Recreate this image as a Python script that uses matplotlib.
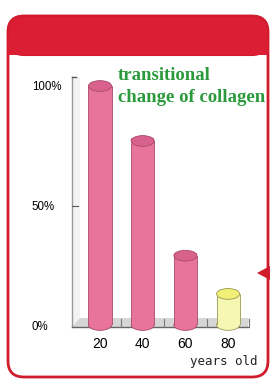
import matplotlib
matplotlib.use('Agg')
import matplotlib.pyplot as plt
from matplotlib.patches import FancyBboxPatch, Rectangle, Ellipse, Polygon

# datos
edades = ['20', '40', '60', '80']
colageno = [100, 77, 29, 13]
colores = ['#e8739b', '#e8739b', '#e8739b', '#f7f7b4']
tapas = ['#d9628c', '#d9628c', '#d9628c', '#f2ef78']
bordes = ['#a8496c', '#a8496c', '#a8496c', '#9a9a50']
y_ticks = [0, 50, 100]
y_labels = ['0%', '50%', '100%']

fig = plt.figure(figsize=(2.7, 3.82), dpi=100)

# capa de fondo en pixeles
fondo = fig.add_axes([0, 0, 1, 1])
fondo.set_xlim(0, 270)
fondo.set_ylim(382, 0)
fondo.axis('off')

marco = FancyBboxPatch((8, 16), 260, 361, boxstyle='round,pad=0,rounding_size=16',
                       facecolor='white', edgecolor='#d01c2c', linewidth=2)
fondo.add_patch(marco)
cabecera = FancyBboxPatch((8, 16), 260, 39, boxstyle='round,pad=0,rounding_size=16',
                          facecolor='#dc1e34', edgecolor='#d01c2c', linewidth=1.5)
fondo.add_patch(cabecera)
fondo.add_patch(Rectangle((8, 40), 260, 15, facecolor='#dc1e34', edgecolor='none'))
fondo.add_patch(Polygon([[257, 273], [270, 266], [270, 280]], closed=True,
                        facecolor='#d01c2c', edgecolor='none'))

# pared izquierda y piso gris
fondo.add_patch(Rectangle((72, 77), 8, 248, facecolor='#f3f3f3', edgecolor='none'))
fondo.plot([72, 72], [77, 327], color='#9a9a9a', lw=1)
fondo.plot([72, 76], [77, 77], color='#555555', lw=1)
fondo.add_patch(Polygon([[72, 327], [80, 318], [249, 318], [248, 327]], closed=True,
                        facecolor='#d6d6d6', edgecolor='none'))
fondo.plot([72, 248], [327, 327], color='#666666', lw=1)
for xt in [121, 164, 207, 249]:
    fondo.plot([xt, xt], [319, 327], color='#777777', lw=0.8)

fondo.text(118, 80, 'transitional', color='#2a9a3c', fontsize=13.5, fontweight='bold',
           family='Liberation Serif', va='baseline')
fondo.text(118, 102, 'change of collagen', color='#2a9a3c', fontsize=13.5, fontweight='bold',
           family='Liberation Serif', va='baseline')
fondo.text(258, 362, 'years old', fontsize=9, family='DejaVu Sans Mono', ha='right',
           va='center', color='#222222')

# grafico de cilindros
px = lambda x, y: fig.transFigure.inverted().transform(fondo.transData.transform((x, y)))
x0, y0 = px(72, 325)
x1, y1 = px(248, 86)
grafico = fig.add_axes([x0, y0, x1 - x0, y1 - y0])
paso = 42.7
grafico.set_xlim((72 - 100) / paso, (248 - 100) / paso)
grafico.set_ylim(0, 100)
grafico.patch.set_alpha(0)
for s in grafico.spines.values():
    s.set_visible(False)

ancho = 0.54
alto_el = 4.5
pos = list(range(len(edades)))
grafico.bar(pos, colageno, width=ancho, color=colores, edgecolor=bordes, linewidth=0.6, zorder=2)
for i, v in enumerate(colageno):
    grafico.add_patch(Ellipse((pos[i], 0), ancho, alto_el, facecolor=colores[i],
                              edgecolor=bordes[i], lw=0.6, zorder=1, clip_on=False))
    grafico.bar(pos[i], 2.2, bottom=v - 1.1, width=ancho * 0.985, color=colores[i],
                linewidth=0, zorder=2.5)
    grafico.add_patch(Ellipse((pos[i], v), ancho, alto_el, facecolor=tapas[i],
                              edgecolor=bordes[i], lw=0.6, zorder=3, clip_on=False))

grafico.set_xticks(pos)
grafico.set_xticklabels(edades, fontsize=10, family='Liberation Sans')
grafico.set_yticks(y_ticks)
grafico.set_yticklabels(y_labels, fontsize=8.3, family='Liberation Sans', ha='left')
grafico.tick_params(axis='x', length=0, pad=9)
grafico.tick_params(axis='y', length=0, pad=29)
grafico.plot([-0.656, -0.52], [50, 50], color='#555555', lw=0.8, clip_on=False)

plt.savefig('out.png', dpi=100)
